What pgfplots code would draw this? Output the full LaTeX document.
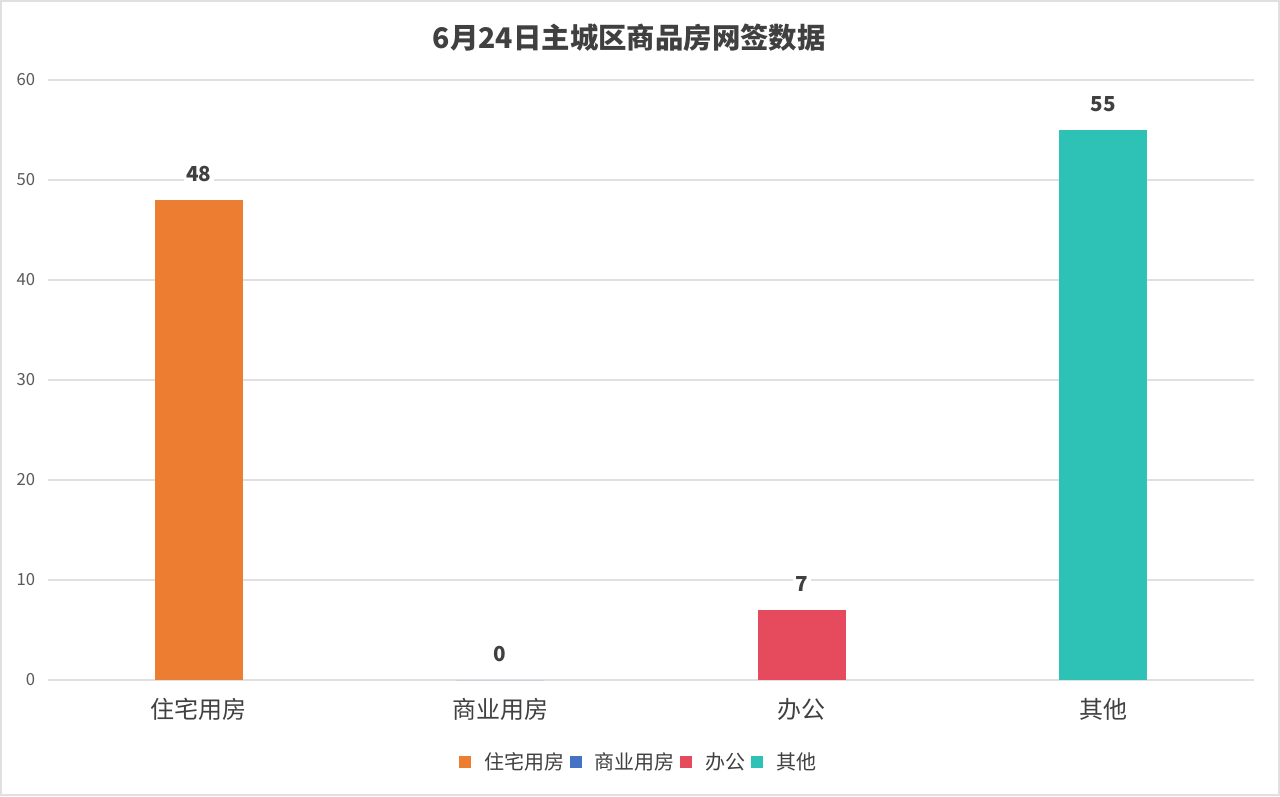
\documentclass[border=0pt]{standalone}
\usepackage{pgfplots}
\pgfplotsset{compat=1.18}
\usepackage{fontspec}
\setmainfont{Noto Sans CJK SC}
\definecolor{cOrange}{HTML}{ED7D31}
\definecolor{cBlue}{HTML}{4472C4}
\definecolor{cRed}{HTML}{E54B5C}
\definecolor{cTeal}{HTML}{2EC1B5}
\definecolor{gridgray}{HTML}{E0E0E0}
\definecolor{txtdark}{HTML}{404040}
\definecolor{txtgray}{HTML}{595959}
\begin{document}
\begin{tikzpicture}
% frame of the whole chart (1px = 0.75pt)
\draw[use as bounding box, draw=gridgray, line width=1.5pt, fill=white] (0.75pt,0.75pt) rectangle (959.25pt,596.25pt);
\node[font=\fontsize{21.3}{25}\selectfont\bfseries, text=txtdark] at (472pt,568.5pt) {6月24日主城区商品房网签数据};
\begin{axis}[
    at={(36pt,87pt)}, anchor=south west,
    scale only axis,
    width=904.5pt, height=450pt,
    ybar, bar width=66pt, bar shift=0pt,
    xmin=-0.5, xmax=3.5,
    ymin=0, ymax=60,
    ytick={0,10,...,60},
    xtick={0,1,2,3},
    xticklabels={住宅用房,商业用房,办公,其他},
    axis lines=left,
    x axis line style={draw=gridgray, line width=1.2pt, -},
    y axis line style={draw=none},
    tick style={draw=none},
    ymajorgrids,
    grid style={draw=gridgray, line width=1.2pt},
    /pgf/number format/assume math mode=true,
    yticklabel style={font=\fontsize{12.5}{15}\selectfont, text=txtgray, xshift=-4pt},
    xticklabel style={font=\fontsize{18}{21}\selectfont, text=txtdark, yshift=-8pt},
    nodes near coords,
    every node near coord/.append style={font=\fontsize{15.5}{18}\selectfont\bfseries, text=txtdark, fill=white, anchor=center, yshift=19.5pt, inner sep=2pt},
    legend columns=4,
    legend style={at={(0.49,-0.137)}, anchor=center, draw=none, fill=none,
        font=\fontsize{15}{18}\selectfont, text=txtdark,
        /tikz/every odd column/.append style={column sep=8pt},
        /tikz/every even column/.append style={column sep=2pt}},
    legend image code/.code={\fill[#1] (0pt,-4.5pt) rectangle (9pt,4.5pt);},
]
\addplot[fill=cOrange, draw=none] coordinates {(0,48)};
\addplot[fill=cBlue, draw=none] coordinates {(1,0)};
\addplot[fill=cRed, draw=none] coordinates {(2,7)};
\addplot[fill=cTeal, draw=none] coordinates {(3,55)};
\legend{住宅用房,商业用房,办公,其他}
\end{axis}
\end{tikzpicture}
\end{document}
